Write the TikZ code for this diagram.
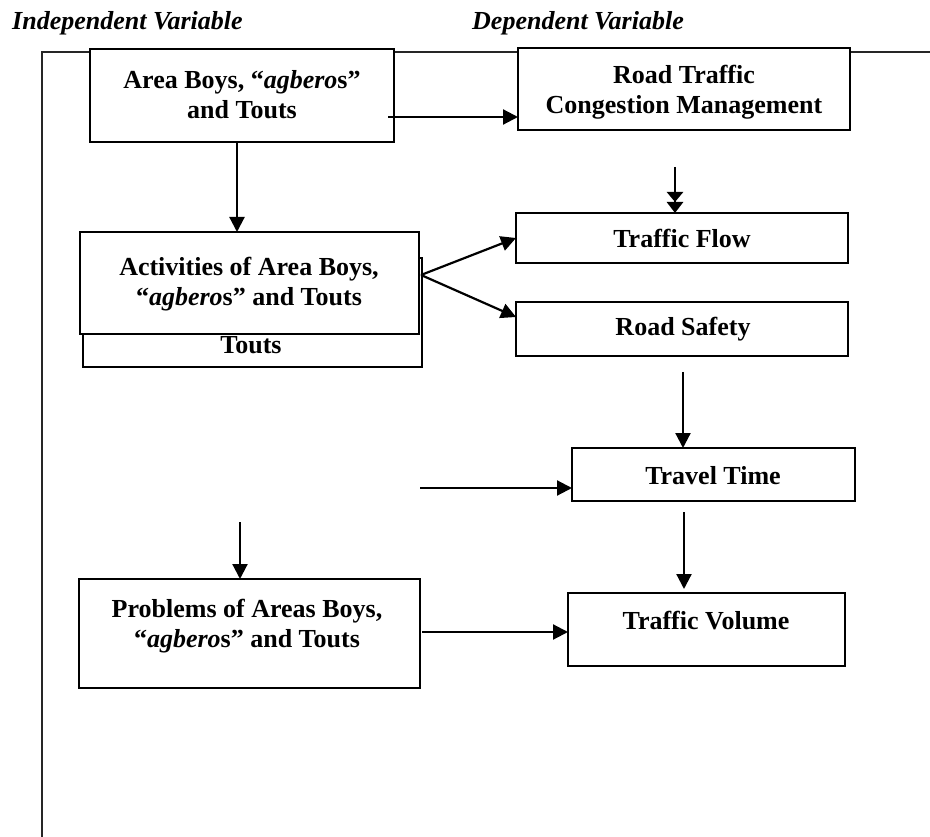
\documentclass[tikz,border=0pt]{standalone}
\usepackage{fontspec}
\setmainfont{Liberation Serif}
\usetikzlibrary{arrows.meta}
\tikzset{
  box/.style={draw, line width=2.2pt, fill=white, inner sep=0pt, outer sep=0pt},
  lbl/.style={font=\fontsize{26}{30}\selectfont\bfseries, align=center, inner sep=0pt},
  hdr/.style={font=\fontsize{26}{29}\selectfont\bfseries\itshape, inner sep=0pt, anchor=base west},
  arr/.style={line width=2.2pt, -{Triangle[length=15pt,width=15pt]}},
  dblarr/.style={line width=2.8pt, -{Triangle[length=10pt,width=16pt]Triangle[length=11pt,width=16pt]}},
  framel/.style={line width=2.2pt, draw=black!85}
}
\begin{document}
\begin{tikzpicture}[x=1pt,y=-1pt]
\useasboundingbox (0,0) rectangle (930,837);
% headers
\node[hdr] (h1) at (12,30) {Independent Variable};
\node[hdr] (h2) at (472,30) {Dependent Variable};
% frame
\coordinate (fr0) at (42,837);
\coordinate (fr1) at (42,52);
\coordinate (fr2) at (930,52);
\draw[framel] (fr0) -- (fr1) -- (fr2);
% boxes
\node[box, minimum width=304pt, minimum height=93pt] (A) at (242,95.5) {};
\node[box, minimum width=332pt, minimum height=82pt] (B) at (684,89) {};
\node[box, minimum width=339pt, minimum height=109pt] (Cb) at (252.5,312.5) {};
\node[box, minimum width=339pt, minimum height=102pt] (C) at (249.5,283) {};
\node[box, minimum width=332pt, minimum height=50pt] (TF) at (682,238) {};
\node[box, minimum width=332pt, minimum height=54pt] (RS) at (682,329) {};
\node[box, minimum width=283pt, minimum height=53pt] (TT) at (713.5,474.5) {};
\node[box, minimum width=277pt, minimum height=73pt] (TV) at (706.5,629.5) {};
\node[box, minimum width=341pt, minimum height=109pt] (P) at (249.5,633.5) {};
% texts
\node[lbl] (At) at (242,95) {Area Boys, “\textit{agbero}s”\\and Touts};
\node[lbl] (Bt) at (684,92) {Road Traffic\\Congestion Management};
\node[lbl] (Ct) at (249,284) {Activities of Area Boys,\\“\textit{agbero}s” and Touts};
\node[lbl, anchor=base] (Cbt) at (251,354) {Touts};
\node[lbl, anchor=base] (TFt) at (682,248) {Traffic Flow};
\node[lbl, anchor=base] (RSt) at (683,336) {Road Safety};
\node[lbl, anchor=base] (TTt) at (713,484) {Travel Time};
\node[lbl, anchor=base] (TVt) at (706,629) {Traffic Volume};
\node[lbl] (Pt) at (247,626) {Problems of Areas Boys,\\“\textit{agbero}s” and Touts};
% connectors
\coordinate (a1) at (388,117);
\draw[arr] (a1) -- (a1 -| B.west);
\coordinate (a2) at (237,0);
\draw[arr] (A.south -| a2) -- (C.north -| a2);
\coordinate (f) at (421,275);
\coordinate (rsin) at (516,317);
\draw[arr] (f) -- (TF.west);
\draw[arr] (f) -- (rsin);
\coordinate (d1) at (675,167);
\draw[dblarr] (d1) -- (d1 |- TF.north);
\coordinate (d2) at (683,372);
\draw[arr] (d2) -- (d2 |- TT.north);
\coordinate (d3) at (420,488);
\draw[arr] (d3) -- (d3 -| TT.west);
\coordinate (d4) at (684,512);
\coordinate (d4e) at (684,589);
\draw[arr] (d4) -- (d4e);
\coordinate (d5) at (240,522);
\draw[arr] (d5) -- (d5 |- P.north);
\coordinate (d6) at (422,632);
\draw[arr] (d6) -- (d6 -| TV.west);
\end{tikzpicture}
\end{document}
